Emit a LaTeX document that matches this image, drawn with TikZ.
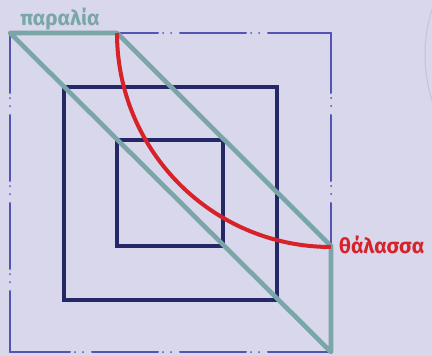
\documentclass[tikz,border=0pt]{standalone}
\usepackage{fontspec}
\setmainfont{Fira Sans}
\usepackage{xcolor}
\usepackage{tikz}
\usetikzlibrary{positioning}
\definecolor{lavbg}{RGB}{216,215,236}
\definecolor{ringc}{RGB}{196,194,226}
\definecolor{frameblue}{RGB}{84,84,178}
\definecolor{navy}{RGB}{36,40,102}
\definecolor{shoreteal}{RGB}{122,166,168}
\definecolor{seared}{RGB}{214,34,40}
\tikzset{
  frameln/.style={draw=frameblue, line width=2pt, line cap=round,
                  dash pattern=on 66pt off 5pt on 0pt off 8pt on 0pt off 9pt, dash phase=6pt},
  sqr/.style    ={draw=navy, line width=4.6pt},
  shore/.style  ={draw=shoreteal, line width=4.6pt, line join=round, line cap=round},
  sea/.style    ={draw=seared, line width=4pt},
  lbl/.style    ={font=\bfseries\fontsize{21}{21}\selectfont, inner sep=0pt},
}

\begin{document}
\begin{tikzpicture}[x=1pt,y=-1pt]
\useasboundingbox (0,0) rectangle (432,356);
\clip (0,0) rectangle (432,356);
\fill[lavbg] (0,0) rectangle (432,356);
\draw[ringc, line width=1pt] (573,55) circle (148);

% corners of the outer frame, shore and sea points
\coordinate (otl) at (10,33);
\coordinate (otr) at (331,33);
\coordinate (obr) at (331,352);
\coordinate (obl) at (10,352);
\coordinate (shr) at (117,33);
\coordinate (sea) at (331,246);

% outer dash-dot frame
\draw[frameln] (otl) -- (otr);
\draw[frameln] (otl) -- (obl);
\draw[frameln] (otr) -- (obr);
\draw[frameln] (obl) -- (obr);

% nested squares
\draw[sqr] (64,87) rectangle (277,300);
\draw[sqr] (117,140) rectangle (223,246);

% shore strip
\draw[shore] (otl) -- (shr) -- (sea) -- (obr) -- cycle;

% sea boundary
\draw[sea] (shr) arc[start angle=180, end angle=90, radius=214];

% labels
\node[lbl, text=shoreteal, anchor=base] (lshr) at (60,26) {παραλία};
\node[lbl, text=seared, anchor=base west] (lsea) at (339,253) {θάλασσα};
\end{tikzpicture}
\end{document}
